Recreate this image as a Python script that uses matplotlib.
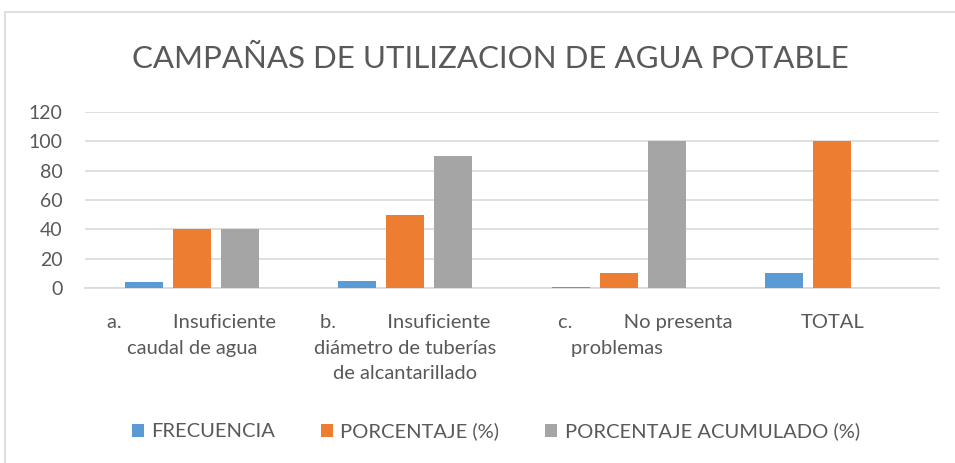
import numpy as np
import matplotlib
matplotlib.use("Agg")
import matplotlib.pyplot as plt
import matplotlib.transforms as mtransforms
from matplotlib.patches import Rectangle

plt.rcParams['font.family'] = ['Lato', 'DejaVu Sans']

categorias = ["a.          Insuficiente\ncaudal de agua",
              "b.          Insuficiente\ndiámetro de tuberías\nde alcantarillado",
              "c.          No presenta\nproblemas           ",
              "TOTAL"]
series = ["FRECUENCIA", "PORCENTAJE (%)", "PORCENTAJE ACUMULADO (%)"]
frecuencia = [4, 5, 1, 10]
porcentaje = [40, 50, 10, 100]
acumulado = [40, 90, 100, 0]
colores = ["#5B9BD5", "#ED7D31", "#A5A5A5"]

fig = plt.figure(figsize=(9.55, 4.63), dpi=100)
ax = fig.add_axes([85 / 955, 0.378, 854 / 955, 0.380])

x = np.arange(len(categorias))
w = 0.178
step = 0.225
for i, vals in enumerate([frecuencia, porcentaje, acumulado]):
    ax.bar(x + (i - 1) * step, vals, w, color=colores[i], label=series[i], zorder=3)

ax.set_xlim(-0.5, len(categorias) - 0.5)
ax.set_ylim(0, 120)
ax.set_yticks(np.arange(0, 121, 20))
ax.yaxis.grid(True, color="#D9D9D9", linewidth=1.2, zorder=0)
for s in ["top", "right", "left"]:
    ax.spines[s].set_visible(False)
ax.spines["bottom"].set_color("#D9D9D9")
ax.spines["bottom"].set_linewidth(1.2)
ax.tick_params(axis="both", length=0, colors="#595959")
ax.tick_params(axis="y", labelsize=14, pad=16)
ax.set_xticks(x)
ax.set_xticklabels(categorias, linespacing=1.6, fontsize=14.5)
ax.tick_params(axis="x", pad=19)

# la etiqueta "c." aparece algo desplazada a la derecha
lbl = ax.get_xticklabels()[2]
lbl.set_transform(lbl.get_transform() + mtransforms.ScaledTranslation(19 / 72, 0, fig.dpi_scale_trans))

fig.text(0.513, 0.872, "CAMPAÑAS DE UTILIZACION DE AGUA POTABLE", ha="center", va="center",
         fontsize=22.5, color="#595959")

leg = fig.legend(loc="center", bbox_to_anchor=(0.519, 0.068), ncol=3, frameon=False,
                 fontsize=14.5, handlelength=0.6, handleheight=0.6, columnspacing=2.3,
                 handletextpad=0.35, labelcolor="#595959")

fig.add_artist(Rectangle((5 / 955, -0.05), 1.1, 1 - 12 / 463 + 0.05, transform=fig.transFigure,
                         fill=False, edgecolor="#D9D9D9", linewidth=1.2))

fig.savefig("out.png", dpi=100)
